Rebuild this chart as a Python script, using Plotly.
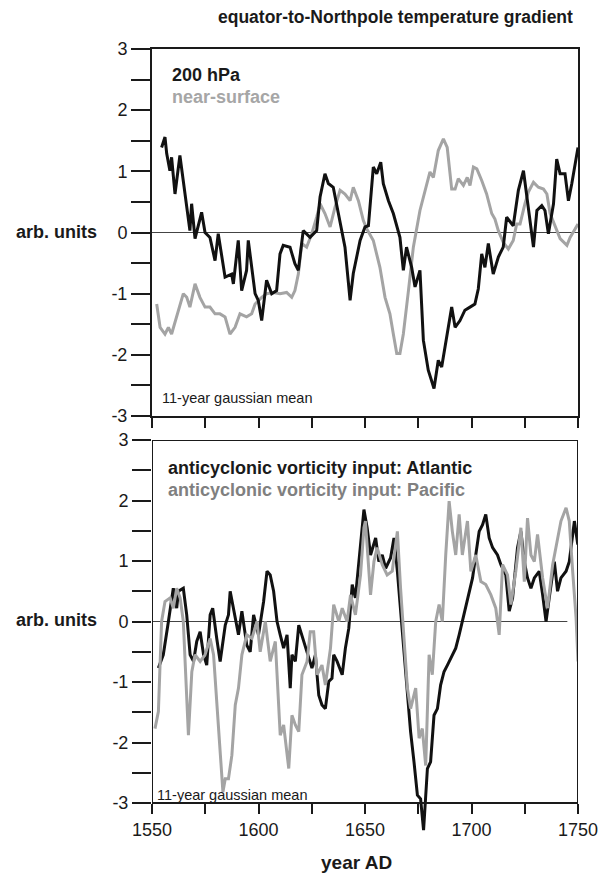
import plotly.graph_objects as go

# ---------------- data ----------------
years_200hpa = [1554.5, 1556.1, 1556.9, 1558.4, 1559.2, 1560.8, 1563.1, 1564.7, 1567.8, 1568.6,
                1570.2, 1573.3, 1574.9, 1577.2, 1579.6, 1581.1, 1584.3, 1587.4, 1588.2, 1590.5,
                1592.1, 1594.4, 1595.2, 1598.4, 1599.9, 1601.5, 1603.8, 1606.2, 1608.5, 1610.1,
                1611.6, 1614.8, 1617.1, 1618.7, 1621.0, 1624.2, 1627.3, 1628.9, 1631.2, 1632.8,
                1635.1, 1637.5, 1640.6, 1643.0, 1644.5, 1647.7, 1650.0, 1651.6, 1653.9, 1655.5,
                1657.4, 1658.6, 1661.0, 1663.3, 1665.6, 1666.4, 1668.0, 1669.5, 1671.9, 1673.5,
                1675.8, 1677.4, 1679.7, 1682.4, 1684.4, 1686.0, 1690.7, 1692.3, 1694.6, 1696.9,
                1699.3, 1701.6, 1703.2, 1704.8, 1706.3, 1707.9, 1710.2, 1712.6, 1714.9, 1716.5,
                1719.6, 1722.0, 1724.4, 1725.9, 1729.1, 1730.7, 1733.0, 1734.5, 1736.1, 1738.5,
                1740.0, 1741.6, 1743.9, 1745.5, 1747.1, 1750.0]
vals_200hpa = [1.39, 1.56, 1.29, 1.01, 1.23, 0.63, 1.26, 0.85, 0.03, 0.47,
               -0.10, 0.33, 0.00, -0.08, -0.46, -0.02, -0.73, -0.68, -0.84, -0.13,
               -0.95, -0.62, -0.13, -1.00, -1.11, -1.44, -0.78, -1.00, -0.95, -0.35,
               -0.21, -0.24, -0.51, -0.62, 0.03, -0.08, 0.03, 0.58, 0.96, 0.80,
               0.74, 0.31, -0.24, -1.11, -0.67, -0.13, 0.09, 0.11, 1.07, 0.96,
               1.15, 0.80, 0.52, 0.31, 0.03, -0.08, -0.62, -0.24, -0.57, -0.89,
               -0.62, -1.76, -2.25, -2.55, -2.09, -2.20, -1.22, -1.55, -1.44, -1.27,
               -1.22, -1.17, -0.92, -0.35, -0.57, -0.18, -0.68, -0.40, -0.24, 0.25,
               0.11, 0.69, 1.01, 0.63, -0.24, 0.36, 0.44, 0.36, -0.02, 0.47,
               1.20, 0.96, 0.96, 0.52, 0.80, 1.39]

years_surface = [1552.2, 1553.8, 1556.1, 1557.7, 1559.2, 1561.6, 1564.7, 1566.3, 1567.8, 1570.2,
                 1572.5, 1574.9, 1577.2, 1579.6, 1581.9, 1584.3, 1586.6, 1589.0, 1591.3, 1594.4,
                 1596.8, 1598.4, 1601.5, 1603.8, 1606.9, 1610.1, 1613.2, 1615.6, 1617.1, 1618.7,
                 1620.3, 1622.6, 1625.0, 1627.3, 1628.9, 1631.2, 1633.6, 1635.9, 1638.3, 1640.6,
                 1643.0, 1644.5, 1646.9, 1649.2, 1650.8, 1653.9, 1657.0, 1659.4, 1661.7, 1663.3,
                 1664.9, 1666.4, 1668.0, 1670.4, 1672.7, 1675.8, 1678.2, 1680.5, 1682.1, 1684.4,
                 1686.8, 1688.6, 1690.7, 1692.3, 1693.8, 1696.2, 1698.0, 1699.3, 1700.9, 1702.5,
                 1704.8, 1707.1, 1709.5, 1711.0, 1712.6, 1714.9, 1717.3, 1719.6, 1721.2, 1722.8,
                 1725.1, 1726.7, 1729.1, 1731.4, 1733.8, 1735.4, 1736.9, 1740.0, 1741.6, 1744.8,
                 1746.3, 1748.7, 1750.0]
vals_surface = [-1.17, -1.55, -1.66, -1.55, -1.66, -1.38, -1.00, -1.06, -1.22, -0.84,
                -1.06, -1.22, -1.22, -1.33, -1.33, -1.38, -1.66, -1.55, -1.33, -1.38,
                -1.33, -1.17, -1.06, -1.00, -0.98, -1.00, -0.98, -1.06, -0.95, -0.68,
                -0.18, -0.24, -0.02, 0.25, 0.47, 0.31, 0.09, 0.41, 0.69, 0.63,
                0.52, 0.74, 0.52, 0.20, 0.06, -0.13, -0.57, -1.06, -1.33, -1.66,
                -1.98, -1.98, -1.66, -0.95, -0.24, 0.36, 0.69, 0.99, 0.90, 1.34,
                1.53, 1.39, 0.71, 0.71, 0.88, 0.77, 0.90, 0.77, 1.07, 1.04,
                0.85, 0.63, 0.31, 0.22, 0.03, -0.16, -0.27, -0.13, 0.14, 0.14,
                0.47, 0.66, 0.82, 0.74, 0.71, 0.63, 0.31, 0.03, -0.10, -0.21,
                -0.08, 0.06, 0.14]

years_atlantic = [1553.0, 1555.3, 1557.7, 1560.0, 1561.6, 1562.4, 1564.7, 1566.3, 1567.9, 1569.5,
                  1571.0, 1572.6, 1574.2, 1575.7, 1577.3, 1578.5, 1580.4, 1582.0, 1584.4, 1585.9,
                  1586.7, 1589.1, 1590.6, 1592.2, 1594.5, 1596.1, 1597.7, 1600.0, 1602.4, 1604.0,
                  1605.5, 1607.1, 1608.7, 1610.2, 1611.8, 1613.4, 1614.9, 1615.7, 1617.3, 1618.9,
                  1621.2, 1622.8, 1625.1, 1626.7, 1628.3, 1629.8, 1631.4, 1633.0, 1634.5, 1635.3,
                  1636.9, 1639.3, 1640.8, 1642.4, 1644.0, 1645.5, 1647.1, 1648.5, 1649.5, 1651.0,
                  1652.6, 1655.0, 1656.5, 1658.1, 1659.7, 1662.0, 1663.6, 1665.2, 1666.7, 1669.1,
                  1671.4, 1673.0, 1674.6, 1676.1, 1677.5, 1679.3, 1680.8, 1682.4, 1684.0, 1685.5,
                  1687.1, 1688.7, 1691.0, 1692.6, 1694.2, 1695.7, 1697.3, 1698.9, 1700.5, 1702.0,
                  1703.6, 1705.2, 1706.7, 1708.3, 1709.9, 1712.2, 1713.8, 1716.1, 1717.7, 1719.3,
                  1721.6, 1723.2, 1724.8, 1726.3, 1727.9, 1729.5, 1731.8, 1733.4, 1735.0, 1736.5,
                  1738.9, 1740.4, 1742.0, 1744.4, 1745.9, 1748.3, 1749.9]
vals_atlantic = [-0.77, -0.55, 0.00, 0.55, 0.22, 0.50, 0.55, 0.11, -0.55, -0.66,
                 -0.33, -0.17, -0.55, -0.72, 0.11, 0.22, -0.28, -0.66, -0.06, 0.11,
                 0.50, 0.06, -0.22, 0.17, -0.39, -0.50, 0.11, -0.22, 0.33, 0.83,
                 0.77, 0.50, 0.00, -0.22, -0.44, -0.22, -1.10, -0.55, -0.66, -0.06,
                 -0.33, -0.50, -0.77, -0.55, -1.22, -1.38, -1.44, -0.99, -0.94, -0.55,
                 -0.66, -0.88, -0.44, -0.11, 0.61, 0.39, 0.94, 1.45, 1.85, 1.55,
                 1.10, 1.38, 0.99, 1.10, 0.88, 1.05, 1.38, 0.83, 0.22, -0.77,
                 -1.82, -2.32, -2.87, -2.93, -3.45, -2.43, -2.32, -1.55, -1.44, -1.05,
                 -0.83, -0.72, -0.55, -0.44, -0.22, 0.00, 0.22, 0.44, 0.72, 1.10,
                 1.49, 1.60, 1.77, 1.38, 1.22, 1.10, 0.94, 0.77, 0.17, 0.39,
                 1.22, 1.49, 0.99, 0.72, 0.55, 0.72, 0.83, 0.44, 0.00, 0.39,
                 0.99, 0.50, 0.72, 0.83, 0.99, 1.66, 1.27]

years_pacific = [1551.4, 1553.0, 1554.5, 1556.1, 1558.5, 1560.0, 1561.6, 1563.2, 1564.7, 1567.1,
                 1568.7, 1570.2, 1572.6, 1574.9, 1577.3, 1578.9, 1580.4, 1582.0, 1583.3, 1584.4,
                 1585.9, 1587.5, 1589.1, 1590.6, 1592.2, 1594.5, 1596.9, 1599.3, 1600.8, 1603.2,
                 1605.5, 1607.9, 1610.2, 1611.8, 1614.2, 1615.7, 1617.3, 1618.9, 1620.4, 1622.8,
                 1624.3, 1625.9, 1627.5, 1629.8, 1631.4, 1633.8, 1635.3, 1637.7, 1639.3, 1641.6,
                 1643.2, 1645.5, 1647.9, 1649.5, 1650.2, 1652.6, 1654.2, 1655.7, 1658.1, 1660.4,
                 1662.8, 1664.4, 1665.2, 1666.7, 1668.3, 1669.9, 1671.4, 1673.8, 1675.4, 1676.9,
                 1678.5, 1680.1, 1681.6, 1683.2, 1684.8, 1686.3, 1687.9, 1689.5, 1691.0, 1692.6,
                 1694.2, 1695.7, 1698.1, 1699.7, 1702.0, 1704.4, 1706.7, 1709.1, 1711.4, 1713.0,
                 1714.6, 1716.9, 1718.5, 1720.8, 1723.2, 1724.8, 1726.3, 1727.9, 1729.5, 1731.0,
                 1733.4, 1735.7, 1738.1, 1740.4, 1742.0, 1744.4, 1745.9, 1747.5, 1749.1, 1750.0]
vals_pacific = [-1.77, -1.49, 0.00, 0.33, 0.39, 0.22, 0.55, 0.39, 0.00, -1.88,
                -0.83, -0.55, -0.66, -0.55, -0.28, -0.55, -1.33, -2.21, -2.82, -2.60,
                -2.60, -2.21, -1.38, -1.10, -0.55, -0.22, -0.28, 0.00, -0.50, 0.00,
                -0.66, -0.33, -1.88, -1.71, -2.43, -1.55, -1.71, -1.82, -0.88, -0.66,
                -0.17, -0.17, -0.88, -0.72, -1.05, -0.44, 0.28, 0.00, 0.22, 0.00,
                0.44, 0.11, 0.77, 1.55, 1.66, 0.44, 0.99, 1.22, 0.94, 0.77,
                0.83, 1.27, 1.49, 0.55, -0.33, -1.10, -1.44, -1.10, -1.93, -1.77,
                -2.38, -0.55, -0.88, 0.00, 0.28, 0.00, 1.10, 1.99, 1.49, 1.10,
                1.77, 1.10, 1.66, 0.83, 1.10, 0.66, 0.61, 0.44, 0.22, -0.22,
                0.94, 0.77, 0.28, 0.83, 1.55, 0.66, 1.71, 1.10, 0.99, 1.44,
                0.72, 0.22, 0.94, 1.33, 1.66, 1.88, 1.66, 0.83, 0.06, -0.66]

x_tick_vals = [1550, 1575, 1600, 1625, 1650, 1675, 1700, 1725, 1750]
x_tick_text = ["1550", "", "1600", "", "1650", "", "1700", "", "1750"]
y_tick_vals = [-3, -2.5, -2, -1.5, -1, -0.5, 0, 0.5, 1, 1.5, 2, 2.5, 3]
y_tick_text = ["-3", "", "-2", "", "-1", "", "0", "", "1", "", "2", "", "3"]

# ---------------- layout helpers ----------------
W, H = 607, 874
FONT = "Liberation Sans, Arial, Helvetica, sans-serif"
INK = "#1a1a1a"
GRAY_LINE = "#a4a4a4"


def px(x):
    return x / W


def py(y):
    return 1 - y / H


X_LEFT, X_RIGHT = 152, 578
TOP_T, TOP_B = 49, 416
BOT_T, BOT_B = 440, 803
BOT_EXTRA = (BOT_B - BOT_T) / 6 * 0.6  # room below -3 for the dip

fig = go.Figure()

# top panel
fig.add_trace(go.Scatter(x=years_surface, y=vals_surface, mode="lines",
                         line=dict(color=GRAY_LINE, width=3), xaxis="x", yaxis="y",
                         showlegend=False, hoverinfo="skip"))
fig.add_trace(go.Scatter(x=years_200hpa, y=vals_200hpa, mode="lines",
                         line=dict(color="#111111", width=3), xaxis="x", yaxis="y",
                         showlegend=False, hoverinfo="skip"))
# bottom panel
fig.add_trace(go.Scatter(x=years_atlantic, y=vals_atlantic, mode="lines",
                         line=dict(color="#111111", width=3), xaxis="x2", yaxis="y2",
                         showlegend=False, hoverinfo="skip"))
fig.add_trace(go.Scatter(x=years_pacific, y=vals_pacific, mode="lines",
                         line=dict(color=GRAY_LINE, width=3), xaxis="x2", yaxis="y2",
                         showlegend=False, hoverinfo="skip"))

common_y = dict(tickmode="array", tickvals=y_tick_vals, ticktext=y_tick_text,
                ticks="outside", ticklen=19, tickwidth=2, tickcolor=INK,
                showgrid=False, zeroline=False, automargin=False,
                tickfont=dict(family=FONT, size=18, color=INK))

fig.update_layout(
    template="none",
    width=W, height=H,
    margin=dict(l=0, r=0, t=0, b=0, autoexpand=False),
    paper_bgcolor="white", plot_bgcolor="white",
    xaxis=dict(domain=[px(X_LEFT), px(X_RIGHT)], range=[1550, 1750], anchor="y",
               tickmode="array", tickvals=x_tick_vals, showticklabels=False,
               ticks="outside", ticklen=10, tickwidth=2, tickcolor=INK,
               showline=True, linewidth=2, linecolor=INK, mirror=True,
               showgrid=False, zeroline=False, automargin=False),
    yaxis=dict(domain=[py(TOP_B), py(TOP_T)], range=[-3, 3], anchor="x",
               showline=True, linewidth=2, linecolor=INK, mirror=True, **common_y),
    xaxis2=dict(domain=[px(X_LEFT), px(X_RIGHT)], range=[1550, 1750],
                anchor="free", position=py(BOT_B),
                tickmode="array", tickvals=x_tick_vals, ticktext=x_tick_text,
                ticks="outside", ticklen=10, tickwidth=2, tickcolor=INK,
                tickfont=dict(family=FONT, size=18, color=INK),
                showline=False, showgrid=False, zeroline=False, automargin=False),
    yaxis2=dict(domain=[py(BOT_B + BOT_EXTRA), py(BOT_T)], range=[-3.6, 3], anchor="x2",
                showline=False, **common_y),
)

shapes = [
    # zero lines
    dict(type="line", xref="x", yref="y", x0=1550, x1=1750, y0=0, y1=0,
         line=dict(color="#444444", width=1), layer="below"),
    dict(type="line", xref="x2", yref="y2", x0=1550, x1=1745, y0=0, y1=0,
         line=dict(color="#444444", width=1), layer="below"),
    # bottom frame
    dict(type="rect", xref="x2", yref="y2", x0=1550, x1=1750, y0=-3, y1=3,
         line=dict(color=INK, width=2), fillcolor="rgba(0,0,0,0)", layer="above"),
]
fig.update_layout(shapes=shapes)


def label(text, x, y, size, color=INK, bold=True, xanchor="left"):
    t = f"<b>{text}</b>" if bold else text
    return dict(text=t, x=px(x), y=py(y), xref="paper", yref="paper",
                xanchor=xanchor, yanchor="middle", showarrow=False,
                font=dict(family=FONT, size=size, color=color))


annotations = [
    label("equator-to-Northpole temperature gradient", 396, 17, 17.5, xanchor="center"),
    label("arb. units", 99, 232, 18, xanchor="right"),
    label("arb. units", 99, 620, 18, xanchor="right"),
    label("year AD", 356, 862, 19, xanchor="center"),
    label("200 hPa", 170, 75, 18),
    label("near-surface", 170, 97, 18, color="#a6a6a6"),
    label("11-year gaussian mean", 160, 398, 14.5, bold=False),
    label("anticyclonic vorticity input: Atlantic", 166, 468, 18),
    label("anticyclonic vorticity input: Pacific", 166, 490, 18, color="#808080"),
    label("11-year gaussian mean", 155, 795, 14.5, bold=False),
]
fig.update_layout(annotations=annotations)

fig.write_html("out.html")
